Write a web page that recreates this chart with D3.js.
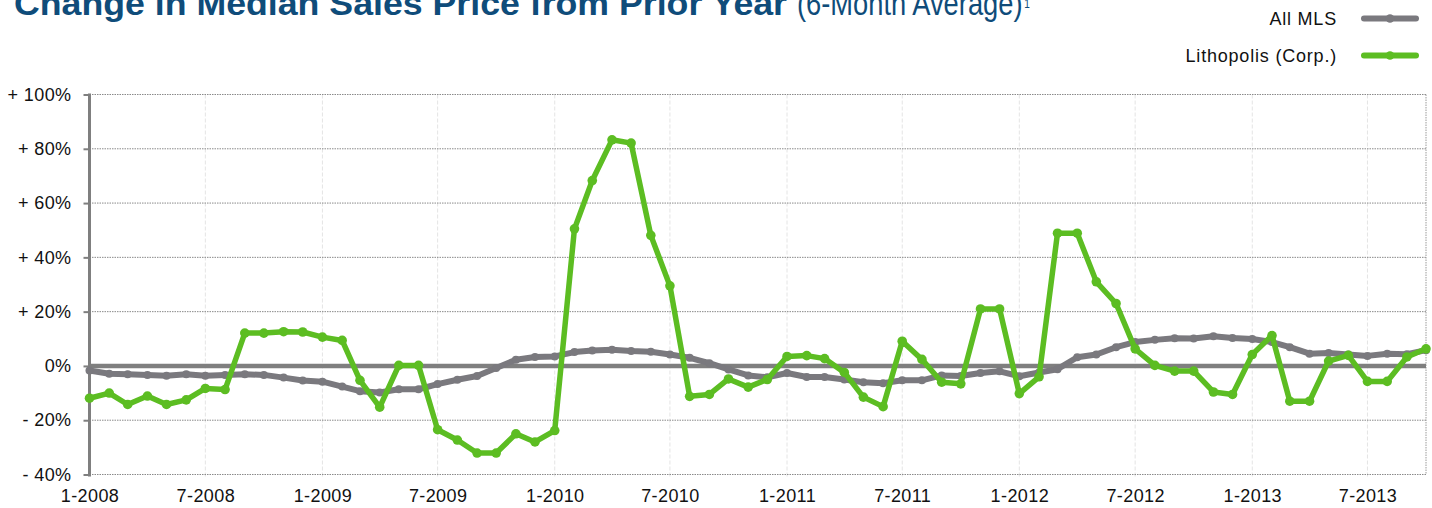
<!DOCTYPE html>
<html>
<head>
<meta charset="utf-8">
<script src="https://cdn.jsdelivr.net/npm/d3@7"></script>
<style>
  html, body { margin: 0; padding: 0; background: #fff; }
  svg { display: block; }
  text { font-family: "Liberation Sans", Arial, sans-serif; fill: #111; }
</style>
</head>
<body>
<svg width="1432" height="508"></svg>
<script>
const width = 1432, height = 508;
const svg = d3.select("svg");

// months 1-2008 .. 10-2013
const months = d3.timeMonth.range(new Date(2008, 0, 1), new Date(2013, 10, 1));

// All MLS (grey)
const allMLS = [
  -1.7, -2.9, -3.1, -3.3, -3.6, -3.1, -3.6, -3.3, -3.1, -3.3,
  -4.3, -5.4, -5.8, -7.6, -9.3, -9.8, -8.6, -8.6, -6.7, -5.1,
  -3.7, -0.8, 2.3, 3.3, 3.5, 5.1, 5.7, 6.0, 5.5, 5.2,
  4.2, 3.0, 1.0, -1.3, -3.5, -4.2, -2.6, -4.1, -4.1, -5.0,
  -6.0, -6.4, -5.3, -5.3, -3.5, -3.7, -2.6, -2.0, -3.8, -2.4,
  -1.2, 3.2, 4.2, 6.9, 8.8, 9.6, 10.2, 10.1, 10.9, 10.3,
  9.9, 8.8, 6.9, 4.5, 4.8, 4.2, 3.7, 4.5, 4.3, 5.8
];

// Lithopolis (Corp.) (green)
const lithopolis = [
  -11.9, -10.0, -14.2, -11.1, -14.2, -12.5, -8.3, -8.7, 12.1, 12.1,
  12.6, 12.5, 10.6, 9.4, -5.3, -15.2, 0.2, 0.2, -23.5, -27.3,
  -32.1, -32.1, -25.0, -28.0, -23.8, 50.5, 68.3, 83.3, 82.1, 48.1,
  29.5, -11.2, -10.5, -4.8, -7.8, -5.0, 3.5, 3.8, 2.7, -2.4,
  -11.5, -15.0, 9.1, 2.4, -6.0, -6.6, 21.0, 21.0, -10.2, -4.0,
  48.9, 48.9, 31.0, 23.0, 6.3, 0.2, -1.9, -1.9, -9.6, -10.5,
  4.2, 11.2, -13.0, -13.0, 1.8, 3.9, -5.7, -5.7, 3.3, 6.3
];

const yTicks = [-40, -20, 0, 20, 40, 60, 80, 100];
const yTickLabels = ["- 40%", "- 20%", "0%", "+ 20%", "+ 40%", "+ 60%", "+ 80%", "+ 100%"];
const xTicks = d3.timeMonth.every(6).range(new Date(2008, 0, 1), new Date(2013, 9, 1));
const xTickLabel = d => `${d.getMonth() + 1}-${d.getFullYear()}`;

const series = [
  { name: "All MLS", values: allMLS, color: "#7a797e", width: 6, r: 4 },
  { name: "Lithopolis (Corp.)", values: lithopolis, color: "#5cbd22", width: 5.5, r: 4.8 }
];

const x = d3.scaleTime()
  .domain([months[0], months[months.length - 1]])
  .range([89.5, 1426]);
const y = d3.scaleLinear()
  .domain([-40, 100])
  .range([474.5, 94.5]);

// title (top cut off, as in the source)
const titleFont = "'Liberation Sans Narrow', 'Liberation Sans', sans-serif";
svg.append("text")
  .attr("x", 14).attr("y", 15)
  .attr("textLength", 773).attr("lengthAdjust", "spacingAndGlyphs")
  .style("font-family", titleFont)
  .style("font-weight", "bold").style("font-size", "34px").style("fill", "#0f4c7a")
  .text("Change in Median Sales Price from Prior Year");
// condensed sub-title, squeezed horizontally
const sub = svg.append("g")
  .attr("transform", "translate(797,15) scale(0.84,1)")
  .append("text")
  .attr("x", 0).attr("y", 0)
  .style("font-family", titleFont)
  .style("font-size", "32.5px").style("fill", "#0f4c7a");
sub.append("tspan").text("(6-Month Average)");
sub.append("tspan")
  .attr("dy", -7).attr("dx", 2)
  .style("font-size", "12px")
  .text("1");

// legend
const legend = svg.append("g");
series.forEach((s, i) => {
  const ly = 18.5 + i * 37;
  legend.append("text")
    .attr("x", 1337).attr("y", ly + 6.5)
    .attr("text-anchor", "end")
    .style("font-size", "18px").style("letter-spacing", "0.8px")
    .text(s.name);
  legend.append("line")
    .attr("x1", 1364).attr("x2", 1416)
    .attr("y1", ly).attr("y2", ly)
    .attr("stroke", s.color).attr("stroke-width", 6)
    .attr("stroke-linecap", "round");
  legend.append("circle")
    .attr("cx", 1390).attr("cy", ly).attr("r", 4.3)
    .attr("fill", s.color);
});

// gridlines
const grid = svg.append("g");
grid.selectAll(".vgrid")
  .data(xTicks.slice(1))
  .enter().append("line")
  .attr("class", "vgrid")
  .attr("x1", d => x(d)).attr("x2", d => x(d))
  .attr("y1", y(100)).attr("y2", y(-40) + 3)
  .attr("stroke", "#e4e4e4").attr("stroke-width", 1)
  .attr("stroke-dasharray", "4,2");
grid.selectAll(".hgrid")
  .data(yTicks.filter(d => d !== 0))
  .enter().append("line")
  .attr("class", "hgrid")
  .attr("x1", x.range()[0]).attr("x2", x.range()[1])
  .attr("y1", d => y(d)).attr("y2", d => y(d))
  .attr("stroke", "#8a8a8a").attr("stroke-width", 1)
  .attr("stroke-dasharray", "1.5,1");
// right border
grid.append("line")
  .attr("x1", 1426).attr("x2", 1426)
  .attr("y1", y(100)).attr("y2", y(-40))
  .attr("stroke", "#9a9a9a").attr("stroke-width", 1)
  .attr("stroke-dasharray", "1.5,1");

// y axis
const yAxis = svg.append("g")
  .attr("transform", "translate(89.5,0)")
  .call(d3.axisLeft(y).tickValues(yTicks).tickSize(6).tickPadding(12)
    .tickFormat((d, i) => yTickLabels[i]));
yAxis.select(".domain").remove();
yAxis.selectAll(".tick line").attr("stroke", "#7f7f7f").attr("stroke-width", 2);
yAxis.selectAll(".tick text")
  .style("font-family", "'Liberation Sans', Arial, sans-serif")
  .style("font-size", "18px").style("letter-spacing", "0.4px").attr("fill", "#111");
svg.append("line")
  .attr("x1", 89.5).attr("x2", 89.5)
  .attr("y1", y(100) - 1).attr("y2", y(-40) + 2)
  .attr("stroke", "#7f7f7f").attr("stroke-width", 3);

// x axis labels
const xAxis = svg.append("g")
  .attr("transform", `translate(0,${y(-40)})`)
  .call(d3.axisBottom(x).tickValues(xTicks).tickSize(0).tickPadding(15)
    .tickFormat(xTickLabel));
xAxis.select(".domain").remove();
xAxis.selectAll(".tick text")
  .style("font-family", "'Liberation Sans', Arial, sans-serif")
  .style("font-size", "18px").style("letter-spacing", "0.4px").attr("fill", "#111");

// zero line
svg.append("line")
  .attr("x1", 89.5).attr("x2", 1426)
  .attr("y1", y(0)).attr("y2", y(0))
  .attr("stroke", "#7f7f7f").attr("stroke-width", 4.5);

// series
const line = d3.line()
  .x((d, i) => x(months[i]))
  .y(d => y(d));

series.forEach(s => {
  const g = svg.append("g");
  g.append("path")
    .datum(s.values)
    .attr("d", line)
    .attr("fill", "none")
    .attr("stroke", s.color)
    .attr("stroke-width", s.width)
    .attr("stroke-linejoin", "round")
    .attr("stroke-linecap", "round");
  g.selectAll("circle")
    .data(s.values)
    .enter().append("circle")
    .attr("cx", (d, i) => x(months[i]))
    .attr("cy", d => y(d))
    .attr("r", s.r)
    .attr("fill", s.color);
});
</script>
</body>
</html>
